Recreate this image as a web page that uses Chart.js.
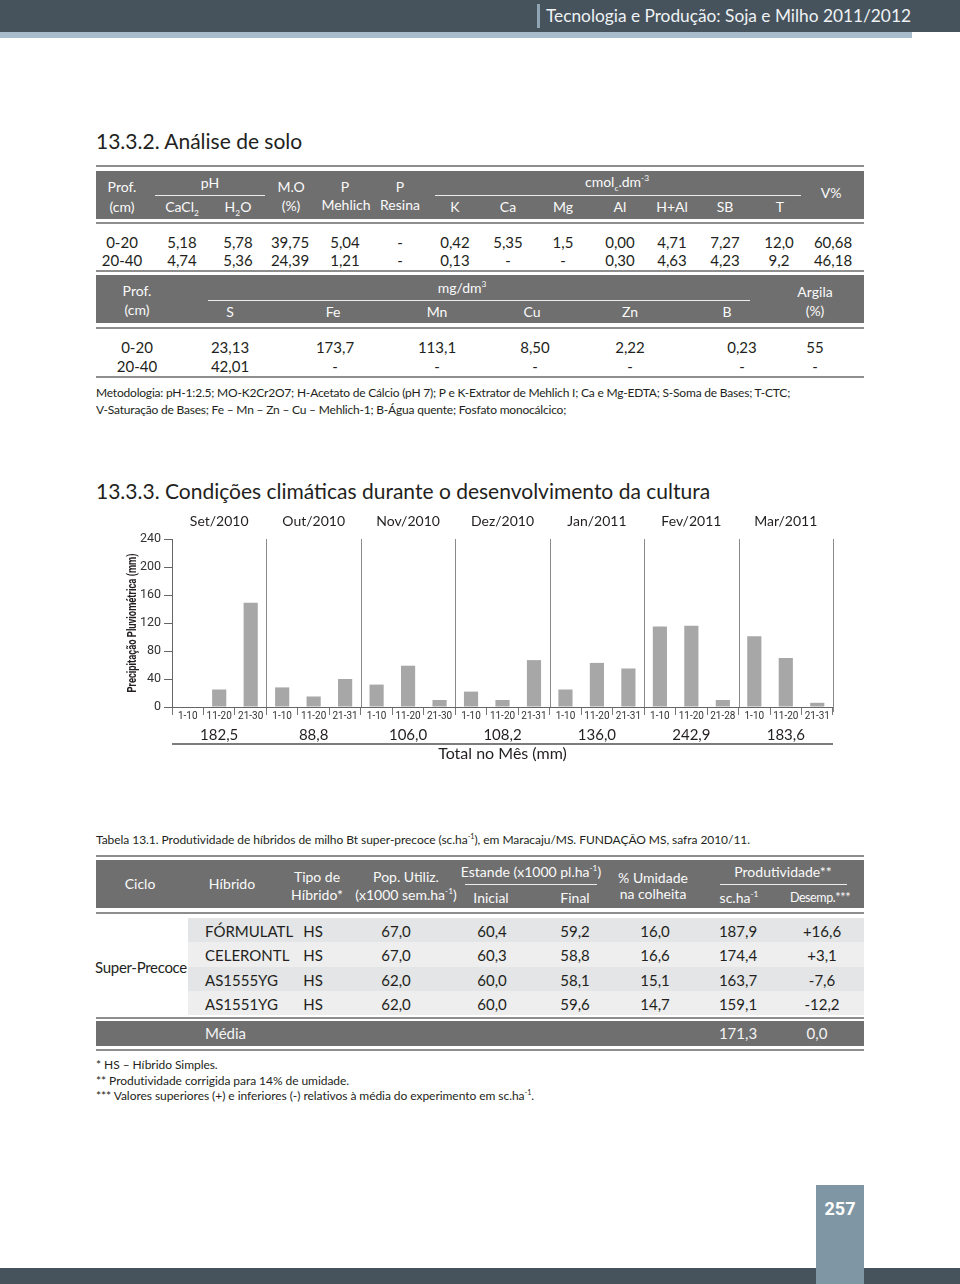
<!DOCTYPE html>
<html lang="pt-BR">
<head>
<meta charset="utf-8">
<title>Tecnologia e Produção: Soja e Milho 2011/2012 - 257</title>
<script src="https://cdn.jsdelivr.net/npm/chart.js@4.4.0/dist/chart.umd.min.js"></script>
<style>
html, body { margin: 0; padding: 0; background: #fff; }
body { width: 960px; height: 1284px; position: relative; overflow: hidden; font-family: Lato, 'Open Sans', sans-serif; color: #231f20; }
.c { position: absolute; transform: translate(-50%, -50%); white-space: nowrap; line-height: 1; }
.l { position: absolute; transform: translateY(-50%); white-space: nowrap; line-height: 1; }
.rule { position: absolute; height: 2px; background: #8e8e8e; }
.hd { position: absolute; background: #6f6f6f; }
.ul { position: absolute; height: 1px; background: #ececec; }
.th { color: #fafafa; font-size: 14px; }
.td { font-size: 15px; }
.h2 { font-size: 21px; color: #231f20; }
.small { font-size: 12px; letter-spacing: -0.2px; color: #231f20; }
.cond { font-size: 12px; letter-spacing: -0.05px; }
sub, sup { font-size: 60%; line-height: 0; }
#chartBox { position: absolute; left: 96px; top: 500px; width: 770px; height: 270px; }
</style>
</head>
<body>

<!-- page header -->
<div style="position:absolute;left:0;top:0;width:960px;height:32px;background:#46535c"></div>
<div style="position:absolute;left:0;top:32px;width:912px;height:6px;background:#a8bccb"></div>
<div style="position:absolute;left:537px;top:4px;width:3px;height:24px;background:#8ea5b4"></div>
<div class="l" style="left:546px;top:16px;font-size:17.3px;color:#eef2f4">Tecnologia e Produção: Soja e Milho 2011/2012</div>

<div class="l h2" style="left:96px;top:140px">13.3.2. Análise de solo</div>

<!-- soil table frame -->
<div class="rule" style="left:96px;top:165px;width:768px"></div>
<div class="hd" style="left:96px;top:171px;width:768px;height:48px"></div>
<div class="rule" style="left:96px;top:222px;width:768px"></div>
<div class="rule" style="left:96px;top:270px;width:768px"></div>
<div class="hd" style="left:96px;top:275px;width:768px;height:48px"></div>
<div class="rule" style="left:96px;top:327px;width:768px"></div>
<div class="rule" style="left:96px;top:376px;width:768px"></div>
<div class="ul" style="left:155px;top:195px;width:110px"></div>
<div class="ul" style="left:435px;top:195px;width:366px"></div>
<div class="ul" style="left:208px;top:300px;width:542px"></div>

<div id="soil"></div>

<div class="l small" style="left:96px;top:393px">Metodologia: pH-1:2.5; MO-K2Cr2O7; H-Acetato de Cálcio (pH 7); P e K-Extrator de Mehlich I; Ca e Mg-EDTA; S-Soma de Bases; T-CTC;</div>
<div class="l small" style="left:96px;top:410px">V-Saturação de Bases; Fe – Mn – Zn – Cu – Mehlich-1; B-Água quente; Fosfato monocálcico;</div>

<div class="l h2" style="left:96px;top:490px">13.3.3. Condições climáticas durante o desenvolvimento da cultura</div>

<div id="chartBox"><canvas id="rainChart" width="770" height="270"></canvas></div>

<div class="l cond" style="left:96px;top:840px">Tabela 13.1. Produtividade de híbridos de milho Bt super-precoce (sc.ha<sup>-1</sup>), em Maracaju/MS. FUNDAÇÃO MS, safra 2010/11.</div>

<!-- hybrid table frame -->
<div class="rule" style="left:96px;top:855px;width:768px"></div>
<div class="hd" style="left:96px;top:860px;width:768px;height:48px"></div>
<div class="rule" style="left:96px;top:912px;width:768px"></div>
<div style="position:absolute;left:188px;top:918px;width:676px;height:24px;background:#e4e5e6"></div>
<div style="position:absolute;left:188px;top:942px;width:676px;height:25px;background:#eeeeef"></div>
<div style="position:absolute;left:188px;top:967px;width:676px;height:24px;background:#e4e5e6"></div>
<div style="position:absolute;left:188px;top:991px;width:676px;height:24px;background:#eeeeef"></div>
<div class="rule" style="left:96px;top:1017px;width:768px"></div>
<div class="hd" style="left:96px;top:1021px;width:768px;height:25px"></div>
<div class="rule" style="left:96px;top:1049px;width:768px"></div>
<div class="ul" style="left:465px;top:884px;width:132px"></div>
<div class="ul" style="left:720px;top:884px;width:127px"></div>

<div id="hybrid"></div>

<div class="l cond" style="left:96px;top:1065px">* HS – Híbrido Simples.</div>
<div class="l cond" style="left:96px;top:1081px">** Produtividade corrigida para 14% de umidade.</div>
<div class="l cond" style="left:96px;top:1096px">*** Valores superiores (+) e inferiores (-) relativos à média do experimento em sc.ha<sup>-1</sup>.</div>

<!-- page footer -->
<div style="position:absolute;left:0;top:1268px;width:960px;height:16px;background:#47535c"></div>
<div style="position:absolute;left:816px;top:1185px;width:48px;height:99px;background:#7f97a4"></div>
<div class="c" style="left:840px;top:1209px;font-family:Roboto,sans-serif;font-weight:bold;font-size:18px;color:#fff">257</div>

<script>
// rainfall per ten-day period (mm)
const months = ['Set/2010', 'Out/2010', 'Nov/2010', 'Dez/2010', 'Jan/2011', 'Fev/2011', 'Mar/2011'];
const periods = ['1-10', '11-20', '21-30', '1-10', '11-20', '21-31', '1-10', '11-20', '21-30',
                 '1-10', '11-20', '21-31', '1-10', '11-20', '21-31', '1-10', '11-20', '21-28',
                 '1-10', '11-20', '21-31'];
const rain = [0, 25, 149, 28, 15, 40, 32, 59, 10, 22, 10, 67, 25, 63, 55, 115, 116, 10, 101, 70, 6];
const monthTotals = ['182,5', '88,8', '106,0', '108,2', '136,0', '242,9', '183,6'];
const yTicks = [0, 40, 80, 120, 160, 200, 240];

// soil analysis table
const soilHeadTop = [['Prof.', 122, 187], ['pH', 210, 183], ['M.O', 291, 187], ['P', 345, 187], ['P', 400, 187],
                     ['cmol<sub>c</sub>.dm<sup>-3</sup>', 617, 182], ['V%', 831, 193]];
const soilHeadBottom = [['(cm)', 122, 207], ['CaCl<sub>2</sub>', 182, 207], ['H<sub>2</sub>O', 238, 207], ['(%)', 291, 206],
                        ['Mehlich', 346, 205], ['Resina', 400, 205], ['K', 455, 207], ['Ca', 508, 207], ['Mg', 563, 207],
                        ['Al', 620, 207], ['H+Al', 672, 207], ['SB', 725, 207], ['T', 780, 207]];
const soilCols = [122, 182, 238, 290, 345, 400, 455, 508, 563, 620, 672, 725, 779, 833];
const soilRows = [
  ['0-20', '5,18', '5,78', '39,75', '5,04', '-', '0,42', '5,35', '1,5', '0,00', '4,71', '7,27', '12,0', '60,68'],
  ['20-40', '4,74', '5,36', '24,39', '1,21', '-', '0,13', '-', '-', '0,30', '4,63', '4,23', '9,2', '46,18']
];
const microHead = [['Prof.', 137, 291], ['(cm)', 137, 310], ['mg/dm<sup>3</sup>', 462, 288], ['S', 230, 312], ['Fe', 333, 312],
                   ['Mn', 437, 312], ['Cu', 532, 312], ['Zn', 630, 312], ['B', 727, 312], ['Argila', 815, 292], ['(%)', 815, 311]];
const microCols = [137, 230, 335, 437, 535, 630, 742, 815];
const microRows = [
  ['0-20', '23,13', '173,7', '113,1', '8,50', '2,22', '0,23', '55'],
  ['20-40', '42,01', '-', '-', '-', '-', '-', '-']
];

// hybrid table
const hybHead = [['Ciclo', 140, 884], ['Híbrido', 232, 884], ['Tipo de', 317, 877], ['Híbrido*', 317, 895],
                 ['Pop. Utiliz.', 406, 877], ['(x1000 sem.ha<sup>-1</sup>)', 406, 895], ['Estande (x1000 pl.ha<sup>-1</sup>)', 531, 872],
                 ['Inicial', 491, 898], ['Final', 575, 898], ['% Umidade', 653, 878], ['na colheita', 653, 894],
                 ['Produtividade**', 783, 872], ['sc.ha<sup>-1</sup>', 739, 898]];
const hybCols = [313, 396, 492, 575, 655, 738, 822];
const hybNames = ['FÓRMULATL', 'CELERONTL', 'AS1555YG', 'AS1551YG'];
const hybRows = [
  ['HS', '67,0', '60,4', '59,2', '16,0', '187,9', '+16,6'],
  ['HS', '67,0', '60,3', '58,8', '16,6', '174,4', '+3,1'],
  ['HS', '62,0', '60,0', '58,1', '15,1', '163,7', '-7,6'],
  ['HS', '62,0', '60,0', '59,6', '14,7', '159,1', '-12,2']
];
const hybRowY = [931, 955, 980, 1004];

function put(parent, html, x, y, cls, style) {
  const d = document.createElement('div');
  d.className = cls;
  d.style.left = x + 'px';
  d.style.top = y + 'px';
  if (style) d.style.cssText += style;
  d.innerHTML = html;
  parent.appendChild(d);
}

const soil = document.getElementById('soil');
soilHeadTop.concat(soilHeadBottom, microHead).forEach(h => put(soil, h[0], h[1], h[2], 'c th'));
soilRows.forEach((r, i) => r.forEach((v, j) => put(soil, v, soilCols[j], i ? 260 : 242, 'c td')));
microRows.forEach((r, i) => r.forEach((v, j) => put(soil, v, microCols[j], i ? 366 : 347, 'c td')));

const hyb = document.getElementById('hybrid');
hybHead.forEach(h => put(hyb, h[0], h[1], h[2], 'c th'));
put(hyb, 'Desemp.***', 820, 898, 'c th', 'font-size:12.5px;letter-spacing:-0.4px');
put(hyb, 'Super-Precoce', 141, 967, 'c td', 'letter-spacing:-0.3px');
hybNames.forEach((n, i) => put(hyb, n, 205, hybRowY[i], 'l td'));
hybRows.forEach((r, i) => r.forEach((v, j) => put(hyb, v, hybCols[j], hybRowY[i], 'c td')));
put(hyb, 'Média', 205, 1033, 'l td', 'color:#f4f4f4');
put(hyb, '171,3', 738, 1033, 'c td', 'color:#f4f4f4');
put(hyb, '0,0', 817, 1033, 'c td', 'color:#f4f4f4');

// month separators, month names, totals and axis title
const monthDecor = {
  id: 'monthDecor',
  afterDraw(chart) {
    const { ctx, chartArea, scales: { x } } = chart;
    const half = (x.getPixelForValue(1) - x.getPixelForValue(0)) / 2;
    ctx.save();
    ctx.strokeStyle = '#8a8a8a';
    ctx.lineWidth = 1;
    ctx.textAlign = 'center';
    ctx.textBaseline = 'middle';
    months.forEach((m, i) => {
      const mid = x.getPixelForValue(i * 3 + 1);
      const edge = Math.round(x.getPixelForValue(i * 3 + 2) + half) + 0.5;
      ctx.beginPath();
      ctx.moveTo(edge, chartArea.top);
      ctx.lineTo(edge, chartArea.bottom + (i === months.length - 1 ? 5 : 0));
      ctx.stroke();
      ctx.fillStyle = '#231f20';
      ctx.font = '14px Lato, sans-serif';
      ctx.fillText(m, mid, chartArea.top - 18);
      ctx.font = '15px Lato, sans-serif';
      ctx.fillText(monthTotals[i], mid, chartArea.bottom + 28);
    });
    ctx.fillStyle = '#7c7c7c';
    ctx.fillRect(chartArea.left, chartArea.bottom + 36, chartArea.right - chartArea.left, 2);
    ctx.fillStyle = '#231f20';
    ctx.font = '16px Lato, sans-serif';
    ctx.fillText('Total no Mês (mm)', (chartArea.left + chartArea.right) / 2, chartArea.bottom + 47);

    // rotated axis title, squeezed to the narrow face of the original
    const title = 'Precipitação Pluviométrica (mm)';
    ctx.translate(37, (chartArea.top + chartArea.bottom) / 2);
    ctx.rotate(-Math.PI / 2);
    ctx.font = 'bold 13.5px Roboto, sans-serif';
    ctx.scale(139 / ctx.measureText(title).width, 1);
    ctx.fillText(title, 0, 0);
    ctx.restore();
  }
};

new Chart(document.getElementById('rainChart'), {
  type: 'bar',
  data: {
    labels: periods,
    datasets: [{
      label: 'Precipitação (mm)',
      data: rain,
      backgroundColor: '#a7a7a7',
      borderWidth: 0,
      categoryPercentage: 1,
      barPercentage: 0.45
    }]
  },
  options: {
    responsive: false,
    devicePixelRatio: 1,
    animation: false,
    layout: { padding: { top: 39, right: 33, left: 0, bottom: 0 } },
    plugins: { legend: { display: false }, tooltip: { enabled: false } },
    scales: {
      x: {
        afterFit: s => { s.height = 63; },
        grid: { drawOnChartArea: false, tickLength: 8, color: '#777' },
        border: { color: '#666' },
        ticks: { autoSkip: false, maxRotation: 0, padding: -5, color: '#333', font: { family: 'Roboto', size: 10 } }
      },
      y: {
        min: yTicks[0],
        max: yTicks[yTicks.length - 1],
        afterFit: s => { s.width = 76; },
        grid: { drawOnChartArea: false, tickLength: 8, color: '#666' },
        border: { color: '#666' },
        ticks: { stepSize: yTicks[1] - yTicks[0], padding: 3, color: '#333', font: { family: 'Roboto', size: 12.5 } }
      }
    }
  },
  plugins: [monthDecor]
});
</script>
</body>
</html>
